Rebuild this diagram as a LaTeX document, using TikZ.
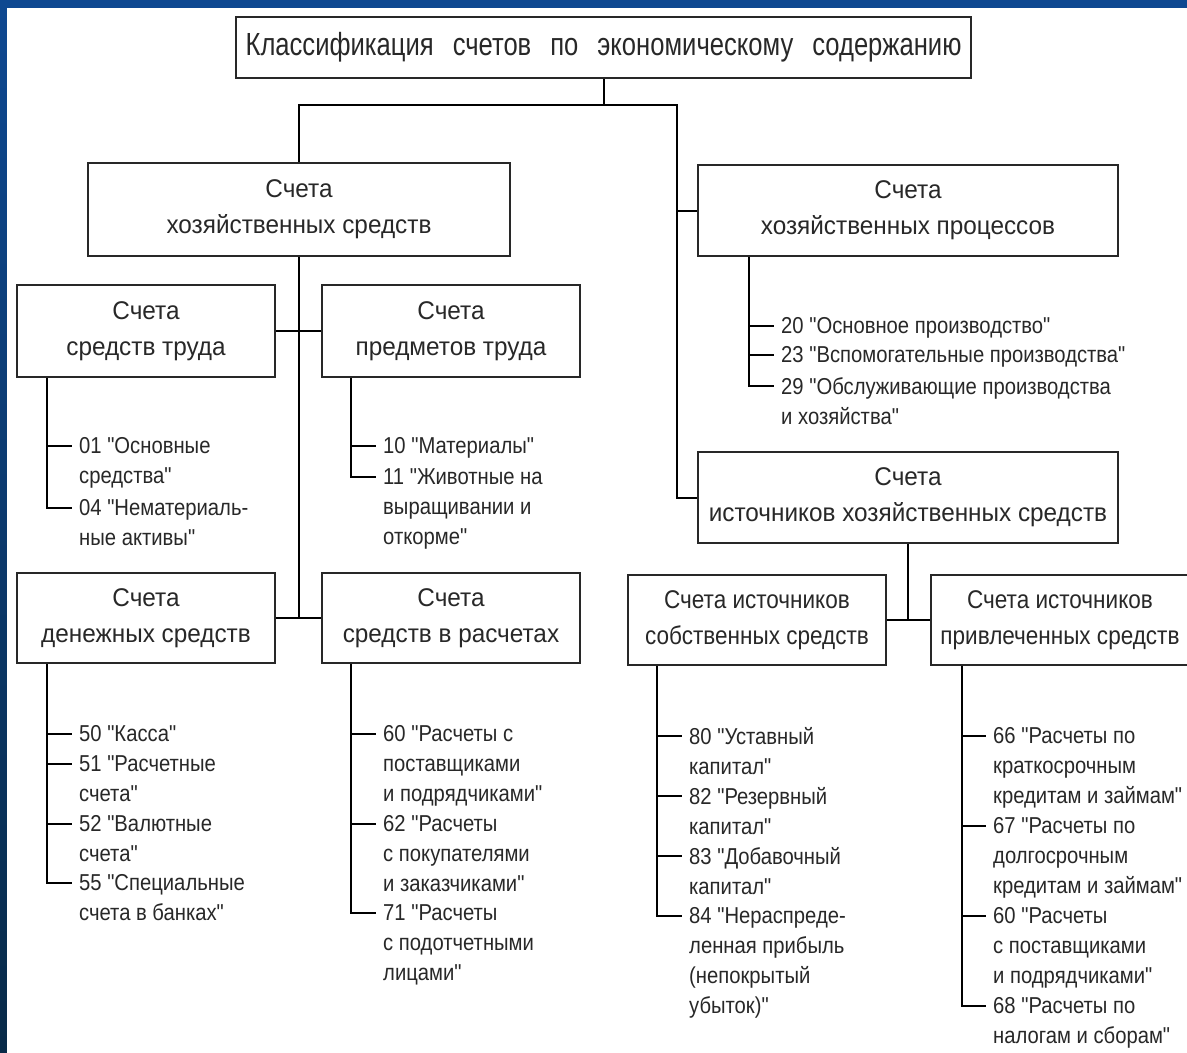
\documentclass[tikz,border=0pt]{standalone}
\usepackage{fontspec}
\setmainfont{Liberation Sans}
\newfontfamily\boxfont{Liberation Sans}[FakeStretch=0.95]
\newfontfamily\narrowfont{Liberation Sans}[FakeStretch=0.88]
\newfontfamily\itemfont{Liberation Sans}[FakeStretch=0.88]
\newfontfamily\headfont{Liberation Sans}[FakeStretch=0.8]
\newcommand\headstyle{\headfont\fontsize{32}{36}\selectfont\spaceskip=19pt\relax}
\definecolor{framblue}{RGB}{14,72,145}
\definecolor{framdark}{RGB}{8,42,72}
\definecolor{inkgray}{RGB}{40,40,40}

\begin{document}
\begin{tikzpicture}[x=1pt,y=-1pt]
\tikzset{ link/.style={draw=black, line width=2pt},
  box/.style={draw=inkgray, line width=2.4pt, fill=white, inner sep=0pt, align=center,
    text=inkgray, font=\boxfont\fontsize{25.6}{36}\selectfont},
  item/.style={anchor=north west, align=left, inner sep=0pt, text=inkgray,
    font=\itemfont\fontsize{23}{30}\selectfont},
}

\useasboundingbox (0,0) rectangle (1187,1053);
% frame
\fill [framblue] (0,0) rectangle (1187,8);
\shade [top color=framblue, bottom color=framdark] (0,0) rectangle (7,1053);
\fill [white] (7,8) rectangle (1187,1053);

\node [box, minimum width=735pt, minimum height=61pt, font=\headstyle] (title) at (603.5,47.5)
  {Классификация счетов по экономическому содержанию};

\node [box, minimum width=422pt, minimum height=93pt] (hs) at (299,209.5) {Счета\\хозяйственных средств};
\node [box, minimum width=420pt, minimum height=91pt] (hp) at (908,210.5) {Счета\\хозяйственных процессов};
\node [box, minimum width=420pt, minimum height=91pt] (hi) at (908,497.5) {Счета\\источников хозяйственных средств};

\node [box, minimum width=258pt, minimum height=92pt] (st) at (146,331) {Счета\\средств труда};
\node [box, minimum width=258pt, minimum height=92pt] (pt) at (451,331) {Счета\\предметов труда};
\node [box, minimum width=258pt, minimum height=90pt] (ds) at (146,618) {Счета\\денежных средств};
\node [box, minimum width=258pt, minimum height=90pt] (sr) at (451,618) {Счета\\средств в расчетах};
\node [box, minimum width=258pt, minimum height=90pt, font=\narrowfont\fontsize{25.6}{36}\selectfont] (ss)
  at (757,620) {Счета источников\\собственных средств};
\node [box, minimum width=258pt, minimum height=90pt, font=\narrowfont\fontsize{25.6}{36}\selectfont] (ps)
  at (1060,620) {Счета источников\\привлеченных средств};

\coordinate (jr) at (677,105);
\draw [link] (title.south) -- (title.south |- jr);
\draw [link] (hs.north) |- (jr) |- (hi.west);
\draw [link] (jr |- hp.west) -- (hp.west);

\draw [link] (hs.south) -- (hs.south |- ds.east);
\draw [link] (st.east) -- (pt.west);
\draw [link] (ds.east) -- (sr.west);
\draw [link] (hi.south) -- (hi.south |- ss.east);
\draw [link] (ss.east) -- (ps.west);

% средства труда
\node [item] (i01) at (79,437.7) {01 "Основные\\средства"};
\node [item] (i04) at (79,499.7) {04 "Нематериаль-\\ные активы"};
\draw [link] ([xshift=31pt]st.south west) |- ([xshift=-7pt,yshift=-8.3pt]i01.north west);
\draw [link] ([xshift=31pt]st.south west) |- ([xshift=-7pt,yshift=-8.3pt]i04.north west);

% предметы труда
\node [item] (i10) at (383,437.7) {10 "Материалы"};
\node [item] (i11) at (383,468.7) {11 "Животные на\\выращивании и\\откорме"};
\draw [link] ([xshift=30pt]pt.south west) |- ([xshift=-7pt,yshift=-8.3pt]i10.north west);
\draw [link] ([xshift=30pt]pt.south west) |- ([xshift=-7pt,yshift=-8.3pt]i11.north west);

% процессы
\node [item] (i20) at (781,317.7) {20 "Основное производство"};
\node [item] (i23) at (781,346.7) {23 "Вспомогательные производства"};
\node [item] (i29) at (781,377.7) {29 "Обслуживающие производства\\и хозяйства"};
\draw [link] ([xshift=52pt]hp.south west) |- ([xshift=-7pt,yshift=-8.3pt]i20.north west);
\draw [link] ([xshift=52pt]hp.south west) |- ([xshift=-7pt,yshift=-8.3pt]i23.north west);
\draw [link] ([xshift=52pt]hp.south west) |- ([xshift=-7pt,yshift=-8.3pt]i29.north west);

% денежные средства
\node [item] (i50) at (79,725.7) {50 "Касса"};
\node [item] (i51) at (79,755.7) {51 "Расчетные\\счета"};
\node [item] (i52) at (79,815.7) {52 "Валютные\\счета"};
\node [item] (i55) at (79,874.7) {55 "Специальные\\счета в банках"};
\foreach \i in {i50,i51,i52,i55}
  \draw [link] ([xshift=31pt]ds.south west) |- ([xshift=-7pt,yshift=-8.3pt]\i.north west);

% средства в расчетах
\node [item] (i60) at (383,725.7) {60 "Расчеты с\\поставщиками\\и подрядчиками"};
\node [item] (i62) at (383,815.7) {62 "Расчеты\\с покупателями\\и заказчиками"};
\node [item] (i71) at (383,904.7) {71 "Расчеты\\с подотчетными\\лицами"};
\foreach \i in {i60,i62,i71}
  \draw [link] ([xshift=30pt]sr.south west) |- ([xshift=-7pt,yshift=-8.3pt]\i.north west);

% собственные средства
\node [item] (i80) at (689,727.7) {80 "Уставный\\капитал"};
\node [item] (i82) at (689,787.7) {82 "Резервный\\капитал"};
\node [item] (i83) at (689,847.7) {83 "Добавочный\\капитал"};
\node [item] (i84) at (689,907.7) {84 "Нераспреде-\\ленная прибыль\\(непокрытый\\убыток)"};
\foreach \i in {i80,i82,i83,i84}
  \draw [link] ([xshift=30pt]ss.south west) |- ([xshift=-7pt,yshift=-8.3pt]\i.north west);

% привлеченные средства
\node [item] (k66) at (993,727.7) {66 "Расчеты по\\краткосрочным\\кредитам и займам"};
\node [item] (k67) at (993,817.7) {67 "Расчеты по\\долгосрочным\\кредитам и займам"};
\node [item] (k60) at (993,907.7) {60 "Расчеты\\с поставщиками\\и подрядчиками"};
\node [item] (k68) at (993,997.7) {68 "Расчеты по\\налогам и сборам"};
\foreach \i in {k66,k67,k60,k68}
  \draw [link] ([xshift=32pt]ps.south west) |- ([xshift=-7pt,yshift=-8.3pt]\i.north west);

\end{tikzpicture}
\end{document}
